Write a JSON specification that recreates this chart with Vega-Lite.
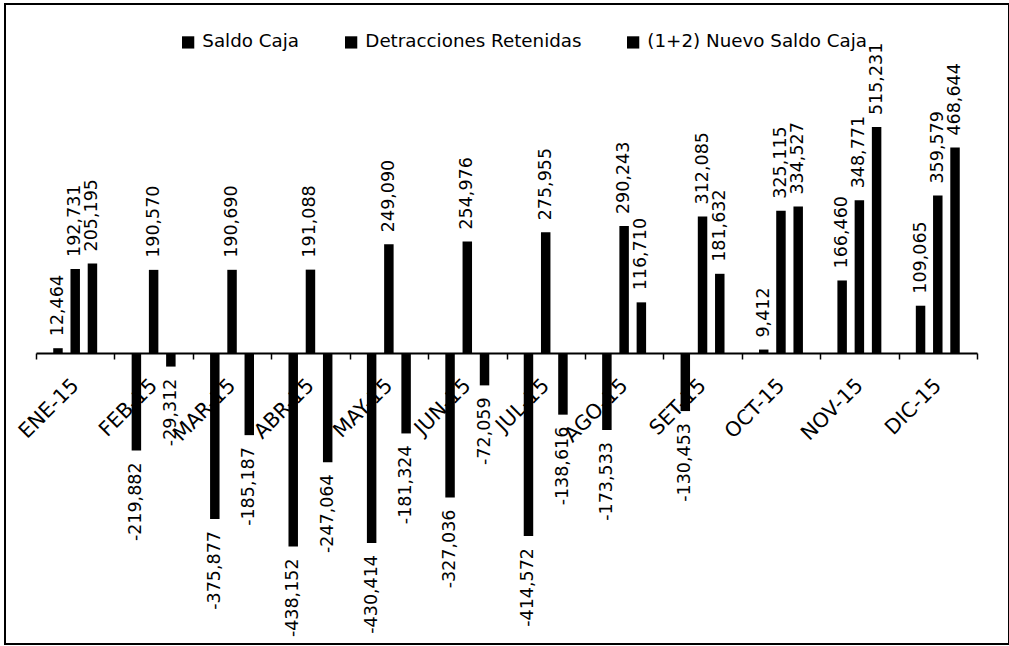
{
  "$schema": "https://vega.github.io/schema/vega-lite/v6.json",
  "width": 1004,
  "height": 640,
  "autosize": {"type": "none"},
  "padding": {"left": 5, "top": 4, "right": 0, "bottom": 2},
  "background": "white",
  "config": {
    "view": {"stroke": "black", "strokeWidth": 2},
    "font": "DejaVu Sans",
    "locale": {
      "number": {"decimal": ".", "thousands": ",", "grouping": [3], "currency": ["$", ""], "minus": "-"}
    }
  },
  "data": {
    "values": [
      {"mes": "ENE-15", "serie": "Saldo Caja", "monto": 12464},
      {"mes": "ENE-15", "serie": "Detracciones Retenidas", "monto": 192731},
      {"mes": "ENE-15", "serie": "(1+2) Nuevo Saldo Caja", "monto": 205195},
      {"mes": "FEB-15", "serie": "Saldo Caja", "monto": -219882},
      {"mes": "FEB-15", "serie": "Detracciones Retenidas", "monto": 190570},
      {"mes": "FEB-15", "serie": "(1+2) Nuevo Saldo Caja", "monto": -29312},
      {"mes": "MAR-15", "serie": "Saldo Caja", "monto": -375877},
      {"mes": "MAR-15", "serie": "Detracciones Retenidas", "monto": 190690},
      {"mes": "MAR-15", "serie": "(1+2) Nuevo Saldo Caja", "monto": -185187},
      {"mes": "ABR-15", "serie": "Saldo Caja", "monto": -438152},
      {"mes": "ABR-15", "serie": "Detracciones Retenidas", "monto": 191088},
      {"mes": "ABR-15", "serie": "(1+2) Nuevo Saldo Caja", "monto": -247064},
      {"mes": "MAY-15", "serie": "Saldo Caja", "monto": -430414},
      {"mes": "MAY-15", "serie": "Detracciones Retenidas", "monto": 249090},
      {"mes": "MAY-15", "serie": "(1+2) Nuevo Saldo Caja", "monto": -181324},
      {"mes": "JUN-15", "serie": "Saldo Caja", "monto": -327036},
      {"mes": "JUN-15", "serie": "Detracciones Retenidas", "monto": 254976},
      {"mes": "JUN-15", "serie": "(1+2) Nuevo Saldo Caja", "monto": -72059},
      {"mes": "JUL-15", "serie": "Saldo Caja", "monto": -414572},
      {"mes": "JUL-15", "serie": "Detracciones Retenidas", "monto": 275955},
      {"mes": "JUL-15", "serie": "(1+2) Nuevo Saldo Caja", "monto": -138616},
      {"mes": "AGO-15", "serie": "Saldo Caja", "monto": -173533},
      {"mes": "AGO-15", "serie": "Detracciones Retenidas", "monto": 290243},
      {"mes": "AGO-15", "serie": "(1+2) Nuevo Saldo Caja", "monto": 116710},
      {"mes": "SET-15", "serie": "Saldo Caja", "monto": -130453},
      {"mes": "SET-15", "serie": "Detracciones Retenidas", "monto": 312085},
      {"mes": "SET-15", "serie": "(1+2) Nuevo Saldo Caja", "monto": 181632},
      {"mes": "OCT-15", "serie": "Saldo Caja", "monto": 9412},
      {"mes": "OCT-15", "serie": "Detracciones Retenidas", "monto": 325115},
      {"mes": "OCT-15", "serie": "(1+2) Nuevo Saldo Caja", "monto": 334527},
      {"mes": "NOV-15", "serie": "Saldo Caja", "monto": 166460},
      {"mes": "NOV-15", "serie": "Detracciones Retenidas", "monto": 348771},
      {"mes": "NOV-15", "serie": "(1+2) Nuevo Saldo Caja", "monto": 515231},
      {"mes": "DIC-15", "serie": "Saldo Caja", "monto": 109065},
      {"mes": "DIC-15", "serie": "Detracciones Retenidas", "monto": 359579},
      {"mes": "DIC-15", "serie": "(1+2) Nuevo Saldo Caja", "monto": 468644}
    ]
  },
  "encoding": {
    "x": {
      "field": "mes",
      "type": "nominal",
      "sort": null,
      "title": null,
      "scale": {"range": [31, 972], "paddingInner": 0, "paddingOuter": 0},
      "axis": {
        "offset": -291,
        "tickBand": "extent",
        "labelAngle": -45,
        "labelAlign": "right",
        "labelBaseline": "middle",
        "labelPadding": 23,
        "labelDx": -4,
        "labelFont": "DejaVu Sans",
        "labelFontSize": 20.5,
        "labelColor": "black",
        "labelOverlap": false,
        "labelBound": false,
        "labelFlush": false,
        "tickColor": "black",
        "tickSize": 6,
        "tickWidth": 1.5,
        "domainColor": "black",
        "domainWidth": 2,
        "grid": false
      }
    },
    "xOffset": {
      "field": "serie",
      "type": "nominal",
      "sort": ["Saldo Caja", "Detracciones Retenidas", "(1+2) Nuevo Saldo Caja"],
      "scale": {"paddingInner": 0.45, "paddingOuter": 1.0}
    },
    "y": {
      "field": "monto",
      "type": "quantitative",
      "axis": null,
      "scale": {"domain": [-660000, 795000], "nice": false, "zero": false}
    }
  },
  "layer": [
    {
      "mark": {"type": "bar"},
      "encoding": {
        "color": {
          "field": "serie",
          "type": "nominal",
          "sort": ["Saldo Caja", "Detracciones Retenidas", "(1+2) Nuevo Saldo Caja"],
          "scale": {"range": ["#000000", "#000000", "#000000"]},
          "legend": {
            "orient": "none",
            "legendX": 174,
            "legendY": 29,
            "direction": "horizontal",
            "title": null,
            "symbolType": "square",
            "symbolSize": 150,
            "symbolStrokeWidth": 0,
            "labelFont": "DejaVu Sans",
            "labelFontSize": 18.3,
            "labelColor": "black",
            "labelLimit": 0,
            "labelOffset": 5,
            "columnPadding": 42
          }
        }
      }
    },
    {
      "transform": [{"filter": "datum.monto >= 0"}],
      "mark": {"type": "text", "angle": -90, "align": "left", "baseline": "middle", "dx": 12, "font": "DejaVu Sans", "fontSize": 17.5, "color": "black"},
      "encoding": {"text": {"field": "monto", "type": "quantitative", "format": ",.0f"}}
    },
    {
      "transform": [{"filter": "datum.monto < 0"}],
      "mark": {"type": "text", "angle": -90, "align": "right", "baseline": "middle", "dx": -12, "font": "DejaVu Sans", "fontSize": 17.5, "color": "black"},
      "encoding": {"text": {"field": "monto", "type": "quantitative", "format": ",.0f"}}
    }
  ]
}
